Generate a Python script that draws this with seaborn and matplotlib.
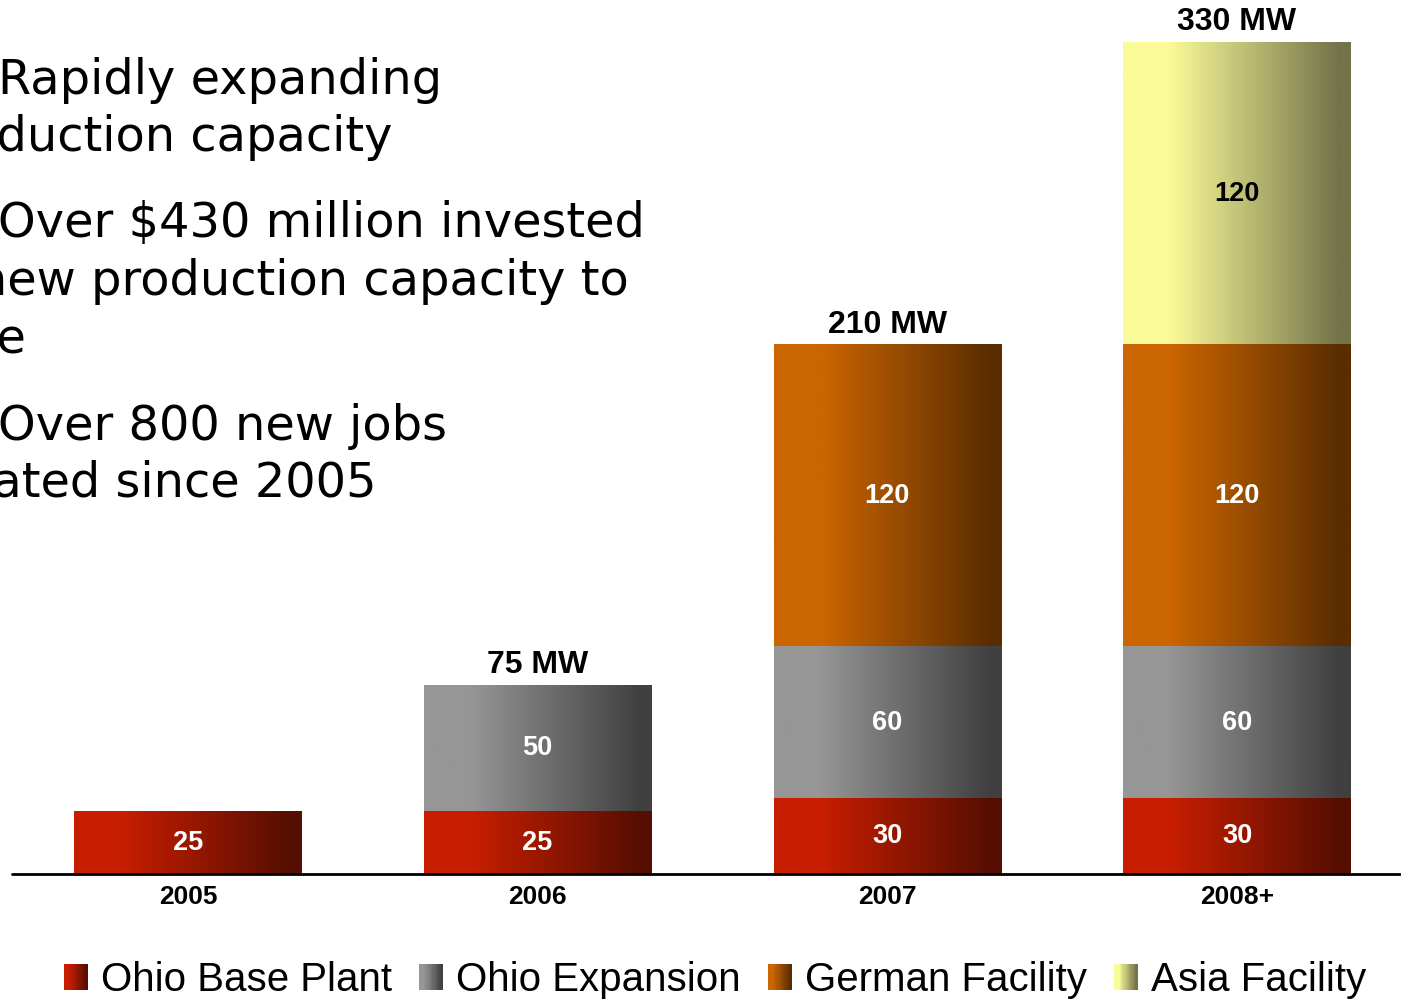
import numpy as np
import matplotlib
matplotlib.use('Agg')
import matplotlib.pyplot as plt
import seaborn as sns
from matplotlib.colors import LinearSegmentedColormap
from matplotlib.patches import Patch, Rectangle
from matplotlib.legend_handler import HandlerBase

# data
years = ['2005', '2006', '2007', '2008+']
ohio_base = [25, 25, 30, 30]
ohio_expansion = [0, 50, 60, 60]
german_facility = [0, 0, 120, 120]
asia_facility = [0, 0, 0, 120]
total_labels = ['', '75 MW', '210 MW', '330 MW']

series = ['Ohio Base Plant', 'Ohio Expansion', 'German Facility', 'Asia Facility']
values = [ohio_base, ohio_expansion, german_facility, asia_facility]
light = ['#c81e00', '#969696', '#cc6600', '#fbfb99']
dark = ['#560e02', '#404040', '#5a2d00', '#73734a']
text_col = ['white', 'white', 'white', 'black']

bullets = [
    ('Rapidly expanding', -2, 94),
    ('production capacity', -82, 151),
    ('Over $430 million invested', -2, 237),
    ('in new production capacity to', -82, 295),
    ('date', -82, 353),
    ('Over 800 new jobs', -2, 440),
    ('created since 2005', -82, 497),
]

sns.set_style('white')
plt.rcParams['font.family'] = ['Liberation Sans', 'DejaVu Sans']
plt.rcParams['text.color'] = 'black'
plt.rcParams['xtick.color'] = 'black'


def grad_cmap(c0, c1):
    return LinearSegmentedColormap.from_list('g', [(0, c0), (0.2, c0), (0.95, c1), (1, c1)])


class GradientHandler(HandlerBase):
    def __init__(self, c0, c1):
        super().__init__()
        self.cmap = grad_cmap(c0, c1)

    def create_artists(self, legend, orig_handle, xdescent, ydescent,
                       width, height, fontsize, trans):
        n = 20
        arts = []
        for k in range(n):
            r = Rectangle((-xdescent + k * width / n, -ydescent), width / n * 1.2, height,
                          facecolor=self.cmap((k + 0.5) / n), edgecolor='none',
                          linewidth=0, transform=trans)
            arts.append(r)
        return arts


W, H = 1401, 1001
fig = plt.figure(figsize=(W / 100, H / 100), dpi=100)
ax = fig.add_axes([12 / W, 1 - 874 / H, 1 - 12 / W, 874 / H])
ax.set_facecolor('none')

tops = np.cumsum(values, axis=0)
bottoms = tops - np.array(values)
grad = np.linspace(0, 1, 256).reshape(1, -1)

for i in reversed(range(len(series))):
    sns.barplot(x=years, y=tops[i], order=years, width=0.65, color='white',
                saturation=1, linewidth=0, ax=ax)
    cmap = grad_cmap(light[i], dark[i])
    for j, bar in enumerate(ax.containers[-1]):
        bar.set_visible(False)
        if values[i][j] == 0:
            continue
        x0, w = bar.get_x(), bar.get_width()
        ax.imshow(grad, cmap=cmap, extent=(x0, x0 + w, bottoms[i][j], tops[i][j]),
                  aspect='auto', interpolation='bilinear', zorder=2)
        ax.text(x0 + w / 2, (bottoms[i][j] + tops[i][j]) / 2, str(values[i][j]),
                ha='center', va='center', color=text_col[i], fontsize=19.5,
                fontweight='bold', zorder=4)

for j, lab in enumerate(total_labels):
    if lab:
        ax.annotate(lab, (j, tops[-1][j]), xytext=(0, 4), textcoords='offset points',
                    ha='center', va='bottom', fontsize=23, fontweight='bold')

ax.axhline(0, color='black', lw=2, zorder=5, clip_on=False)
ax.set_xlim(-0.503, 3.469)
ax.set_ylim(0, 330 * 874 / 831)
ax.set_yticks([])
ax.set_xticks(range(len(years)))
ax.set_xticklabels(years, fontsize=19, fontweight='bold')
ax.tick_params(axis='x', length=0, pad=8)
ax.set_xlabel('')
ax.set_ylabel('')
sns.despine(ax=ax, left=True, bottom=True)

for txt, xp, yp in bullets:
    fig.text(xp / W, 1 - yp / H, txt, ha='left', va='baseline', fontsize=34.5,
             family=['DejaVu Sans'])

handles = [Patch(label=s) for s in series]
hmap = {h: GradientHandler(light[k], dark[k]) for k, h in enumerate(handles)}
fig.legend(handles=handles, handler_map=hmap, loc='center', bbox_to_anchor=(715 / W, 1 - 980 / H),
           ncol=4, frameon=False, prop={'size': 29},
           handlelength=0.58, handleheight=0.62, handletextpad=0.33, columnspacing=0.68)

fig.savefig('out.png', dpi=100)
